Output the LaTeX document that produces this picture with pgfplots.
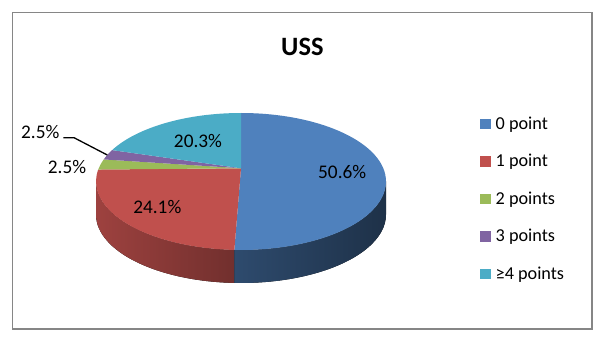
\documentclass[border=0pt]{standalone}
\usepackage{fontspec}
\setmainfont{Carlito}
\usepackage{pgfplots}
\usepackage{pgfplotstable}
\pgfplotsset{compat=1.18}

\definecolor{c0}{HTML}{4F81BD}
\definecolor{c1}{HTML}{C0504D}
\definecolor{c2}{HTML}{9BBB59}
\definecolor{c3}{HTML}{8064A2}
\definecolor{c4}{HTML}{4BACC6}
\definecolor{frame}{HTML}{868686}

\pgfplotstableread{
category value
0 50.6
1 24.1
2 2.5
3 2.5
4 20.3
}\piedata

% geometry of the projected (perspective) pie
\def\cx{241}      % ellipse centre x
\def\cy{158.5}    % ellipse centre y
\def\RA{145}      % horizontal semi-axis
\def\RB{68.5}     % vertical semi-axis
\def\kk{0.193}    % perspective factor
\def\depth{33}    % thickness

\newcommand\getval[2]{\pgfplotstablegetelem{#1}{value}\of\piedata\let#2\pgfplotsretval}
% data angle -> parametric angle on the projected ellipse
\newcommand\ptot[2]{%
  \pgfmathsetmacro\tmpw{1+\kk*sin(#1)}%
  \pgfmathsetmacro\tmpx{\RA*sqrt(1-\kk*\kk)*cos(#1)/\tmpw}%
  \pgfmathsetmacro\tmpy{\RB*(1-\kk*\kk)*sin(#1)/\tmpw}%
  \pgfmathsetmacro#2{atan2((\tmpy+\kk*\RB)/\RB,\tmpx/\RA)}%
}

\begin{document}
\begin{tikzpicture}
\getval{0}\vA \getval{1}\vB \getval{2}\vC \getval{3}\vD
\pgfmathsetmacro\pA{90-3.6*\vA}
\pgfmathsetmacro\pB{\pA-3.6*\vB}
\pgfmathsetmacro\pC{\pB-3.6*\vC}
\pgfmathsetmacro\pD{\pC-3.6*\vD}
\ptot{\pA}\tA \ptot{\pB}\tB \ptot{\pC}\tC \ptot{\pD}\tD
\pgfmathsetmacro\eA{\tA>90?\tA-360:\tA}
\pgfmathsetmacro\eB{\tB>\eA?\tB-360:\tB}
\pgfmathsetmacro\eC{\tC>\tB?\tC-360:\tC}
\pgfmathsetmacro\eD{\tD>\tC?\tD-360:\tD}
\pgfmathsetmacro\eE{90>\tD?-270:90}
\pgfmathsetmacro\apexy{\cy+\kk*\RB}
\begin{axis}[
  width=605bp, height=340bp, scale only axis,
  xmin=0, xmax=605, ymin=0, ymax=340, enlargelimits=false,
  axis lines=none, ticks=none, clip=false]
% background and frame
\fill[white] (axis cs:0,0) rectangle (axis cs:605,340);
\draw[frame, line width=1.8bp] (axis cs:12.5,327.5) rectangle (axis cs:592,11);
% title
\node[font=\bfseries\fontsize{26.5bp}{30bp}\selectfont] at (axis cs:302.4,292.7) {USS};
% side faces (front)
\fill[left color=c1!82!black, right color=c1!58!black]
  (axis cs:\cx,\cy) ++(-180:\RA bp and \RB bp)
  arc[start angle=-180, end angle=\eA, x radius=\RA bp, y radius=\RB bp]
  -- ++(0bp,-\depth bp)
  arc[start angle=\eA, end angle=-180, x radius=\RA bp, y radius=\RB bp] -- cycle;
\fill[left color=c0!58!black, right color=c0!38!black]
  (axis cs:\cx,\cy) ++(\eA:\RA bp and \RB bp)
  arc[start angle=\eA, end angle=0, x radius=\RA bp, y radius=\RB bp]
  -- ++(0bp,-\depth bp)
  arc[start angle=0, end angle=\eA, x radius=\RA bp, y radius=\RB bp] -- cycle;
% top faces
\fill[c0] (axis cs:\cx,\cy) ++(90:\RA bp and \RB bp)
  arc[start angle=90, end angle=\eA, x radius=\RA bp, y radius=\RB bp] -- (axis cs:\cx,\apexy) -- cycle;
\fill[c1] (axis cs:\cx,\cy) ++(\eA:\RA bp and \RB bp)
  arc[start angle=\eA, end angle=\eB, x radius=\RA bp, y radius=\RB bp] -- (axis cs:\cx,\apexy) -- cycle;
\fill[c2] (axis cs:\cx,\cy) ++(\tB:\RA bp and \RB bp)
  arc[start angle=\tB, end angle=\eC, x radius=\RA bp, y radius=\RB bp] -- (axis cs:\cx,\apexy) -- cycle;
\fill[c3] (axis cs:\cx,\cy) ++(\tC:\RA bp and \RB bp)
  arc[start angle=\tC, end angle=\eD, x radius=\RA bp, y radius=\RB bp] -- (axis cs:\cx,\apexy) -- cycle;
\fill[c4] (axis cs:\cx,\cy) ++(\tD:\RA bp and \RB bp)
  arc[start angle=\tD, end angle=\eE, x radius=\RA bp, y radius=\RB bp] -- (axis cs:\cx,\apexy) -- cycle;
% data labels
\begin{scope}[every node/.style={font=\fontsize{19.3bp}{23bp}\selectfont, inner sep=0pt}]
\node at (axis cs:342.2,168.3) {50.6\%};
\node at (axis cs:157.3,133) {24.1\%};
\node at (axis cs:198,199.3) {20.3\%};
\node at (axis cs:67,172.7) {2.5\%};
\node at (axis cs:40.3,208.3) {2.5\%};
\end{scope}
\draw[black, line width=1.3bp] (axis cs:63.3,202.3) -- (axis cs:74,202.3) -- (axis cs:107.3,185);
% legend
\begin{scope}[every node/.style={font=\fontsize{18.2bp}{22bp}\selectfont, inner sep=0pt, anchor=base west}]
\fill[c0] (axis cs:480,210.7) rectangle (axis cs:490.7,221.2);
\node at (axis cs:495.5,210.7) {0 point};
\fill[c1] (axis cs:480,173.2) rectangle (axis cs:490.7,183.7);
\node at (axis cs:495.5,173.2) {1 point};
\fill[c2] (axis cs:480,135.7) rectangle (axis cs:490.7,146.2);
\node at (axis cs:495.5,135.7) {2 points};
\fill[c3] (axis cs:480,98.2) rectangle (axis cs:490.7,108.7);
\node at (axis cs:495.5,98.2) {3 points};
\fill[c4] (axis cs:480,60.7) rectangle (axis cs:490.7,71.2);
\node at (axis cs:495.5,60.7) {≥4 points};
\end{scope}
\end{axis}
\end{tikzpicture}
\end{document}
